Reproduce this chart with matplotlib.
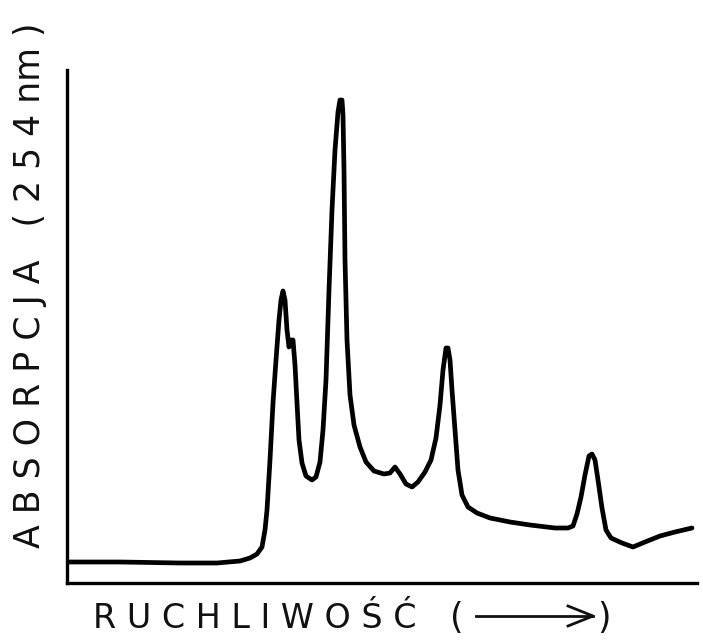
import matplotlib

matplotlib.use("Agg")

import matplotlib.pyplot as plt

# trace: mobility (arbitrary units) vs absorbance at 254 nm
ruchliwosc = [
    1, 53, 113, 150, 173, 183, 190, 195, 198, 200, 203, 206, 209, 212, 214,
    216, 218, 220, 222, 224, 226, 228, 230, 232, 235, 239, 245, 249, 253,
    256, 259, 262, 265, 268, 271, 273, 275, 276, 277, 278, 280, 283, 287,
    293, 299, 307, 317, 323, 328, 333, 339, 345, 351, 358, 364, 369, 373,
    376, 379, 381, 383, 385, 388, 391, 395, 401, 410, 423, 443, 463, 488,
    501, 506, 510, 514, 518, 522, 525, 528, 531, 535, 539, 544, 555, 566,
    578, 593, 608, 625,
]
absorpcja = [
    21, 21, 20, 20, 22, 25, 29, 36, 53, 73, 123, 180, 223, 263, 283,
    292, 283, 253, 236, 243, 243, 218, 180, 143, 120, 107, 103, 106, 121,
    153, 203, 293, 373, 433, 471, 483, 483, 468, 413, 323, 243, 188, 158,
    136, 121, 112, 109, 110, 116, 109, 99, 96, 101, 111, 123, 145, 178,
    213, 235, 235, 223, 193, 153, 113, 88, 76, 70, 65, 61, 58, 55,
    55, 57, 69, 86, 108, 127, 129, 123, 103, 75, 53, 45, 40, 36,
    41, 47, 51, 55,
]

W, H = 703, 641
fig = plt.figure(figsize=(W / 100, H / 100), dpi=100)
ax = fig.add_axes([67 / W, 1 - 583 / H, 630 / W, 513 / H])

ax.plot(ruchliwosc, absorpcja, color="black", linewidth=3.4,
        solid_joinstyle="round", solid_capstyle="round")

ax.set_xlim(0, 630)
ax.set_ylim(0, 513)
ax.spines["top"].set_visible(False)
ax.spines["right"].set_visible(False)
for s in ("left", "bottom"):
    ax.spines[s].set_linewidth(2.4)
    ax.spines[s].set_color("black")
ax.set_xticks([])
ax.set_yticks([])

styl = dict(fontsize=25, family="DejaVu Sans", color="#111111")

fig.text(30 / W, 1 - 285 / H, "A B S O R P C J A   ( 2 5 4 nm )",
         rotation=90, ha="center", va="center", **styl)

fig.text(93 / W, 1 - 618 / H, "R U C H L I W O Ś Ć", ha="left",
         va="center", fontsize=24, family="DejaVu Sans", color="#111111")
fig.text(450 / W, 1 - 618 / H, "(", ha="left", va="center", **styl)
fig.text(597 / W, 1 - 618 / H, ")", ha="left", va="center", **styl)
fig.add_artist(plt.Line2D([476 / W, 593 / W], [1 - 616 / H] * 2,
                          transform=fig.transFigure, color="#111111", lw=2))
fig.add_artist(plt.Line2D([568 / W, 593 / W, 568 / W],
                          [1 - 606 / H, 1 - 616 / H, 1 - 626 / H],
                          transform=fig.transFigure, color="#111111", lw=2))

fig.savefig("out.png", dpi=100)
